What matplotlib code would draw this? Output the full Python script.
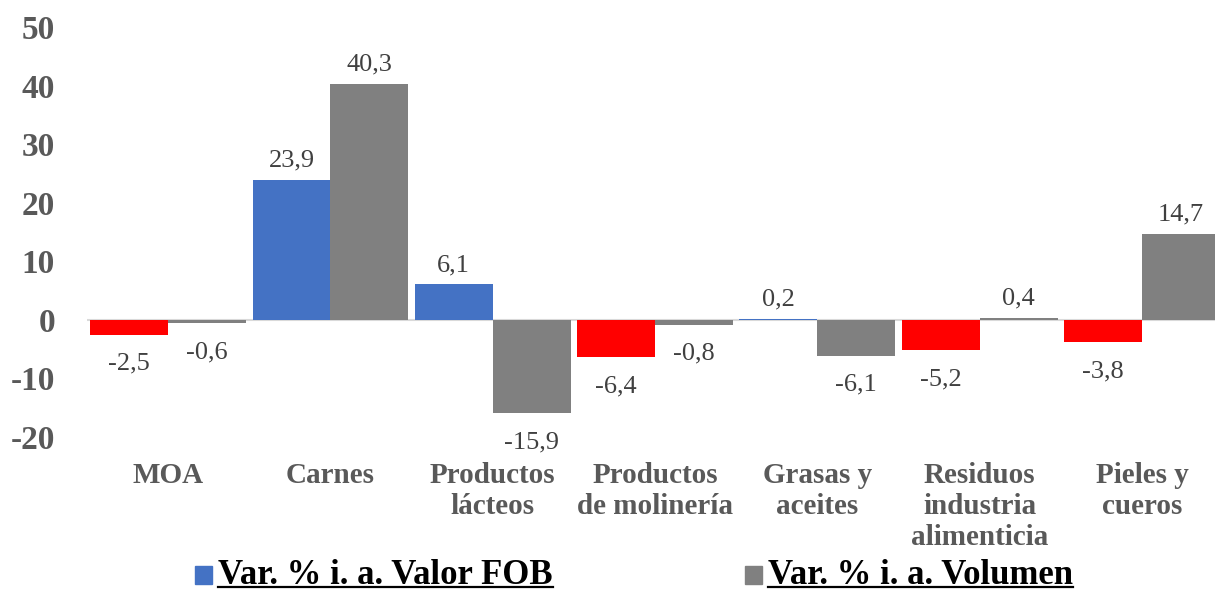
import matplotlib
matplotlib.use("Agg")
import matplotlib.pyplot as plt
from matplotlib.patches import Rectangle
from matplotlib.lines import Line2D

categories = ["MOA", "Carnes", "Productos\nlácteos", "Productos\nde molinería",
              "Grasas y\naceites", "Residuos\nindustria\nalimenticia", "Pieles y\ncueros"]
valor_fob = [-2.5, 23.9, 6.1, -6.4, 0.2, -5.2, -3.8]
volumen = [-0.6, 40.3, -15.9, -0.8, -6.1, 0.4, 14.7]
series_names = ["Var. % i. a. Valor FOB", "Var. % i. a. Volumen"]
y_ticks = [-20, -10, 0, 10, 20, 30, 40, 50]

BLUE = "#4472C4"
RED = "#FF0000"
GRAY = "#808080"
SERIF = "Liberation Serif"

plt.rcParams["font.family"] = SERIF

fig = plt.figure(figsize=(12.15, 5.92), dpi=100)
ax = fig.add_axes([87 / 1215, 155 / 592, 1128 / 1215, 410 / 592])

x = list(range(len(categories)))
w = 0.48
fob_colors = [BLUE if v >= 0 else RED for v in valor_fob]
ax.bar([i - w / 2 for i in x], valor_fob, width=w, color=fob_colors, zorder=2)
ax.bar([i + w / 2 for i in x], volumen, width=w, color=GRAY, zorder=2)
ax.axhline(0, color="#D9D9D9", lw=1.5, zorder=1)

def label(xpos, v):
    txt = f"{v:.1f}".replace(".", ",")
    if v >= 0:
        ax.annotate(txt, (xpos, v), xytext=(0, 8), textcoords="offset pixels",
                    ha="center", va="bottom", fontsize=19, color="#404040")
    else:
        ax.annotate(txt, (xpos, v), xytext=(0, -18), textcoords="offset pixels",
                    ha="center", va="top", fontsize=19, color="#404040")

for i in x:
    label(i - w / 2, valor_fob[i])
    label(i + w / 2, volumen[i])

ax.set_xlim(-0.5, 6.45)
ax.set_ylim(-20, 50)
ax.set_yticks(y_ticks)
ax.set_yticklabels([str(t) for t in y_ticks], fontsize=24, fontweight="bold", color="#595959")
ax.set_xticks(x)
ax.set_xticklabels(categories, fontsize=21, fontweight="bold", color="#595959",
                   linespacing=1.2)
ax.tick_params(axis="y", length=0, pad=23)
ax.tick_params(axis="x", length=0, pad=18)
for s in ax.spines.values():
    s.set_visible(False)

# legend drawn by hand so the labels can be underlined
legend_items = [(BLUE, 195 / 1215), (GRAY, 745 / 1215)]
base = 8 / 592
for (col, lx), name in zip(legend_items, series_names):
    fig.patches.append(Rectangle((lx, base), 17 / 1215, 18 / 592,
                                 transform=fig.transFigure, color=col))
    t = fig.text(lx + 23 / 1215, base, name, fontsize=25, fontweight="bold",
                 color="black", va="baseline", ha="left")
    fig.canvas.draw()
    bb = t.get_window_extent(fig.canvas.get_renderer()).transformed(fig.transFigure.inverted())
    fig.add_artist(Line2D([bb.x0, bb.x1], [base - 3 / 592, base - 3 / 592],
                          transform=fig.transFigure, color="black", lw=1.6))

fig.savefig("out.png", dpi=100)
